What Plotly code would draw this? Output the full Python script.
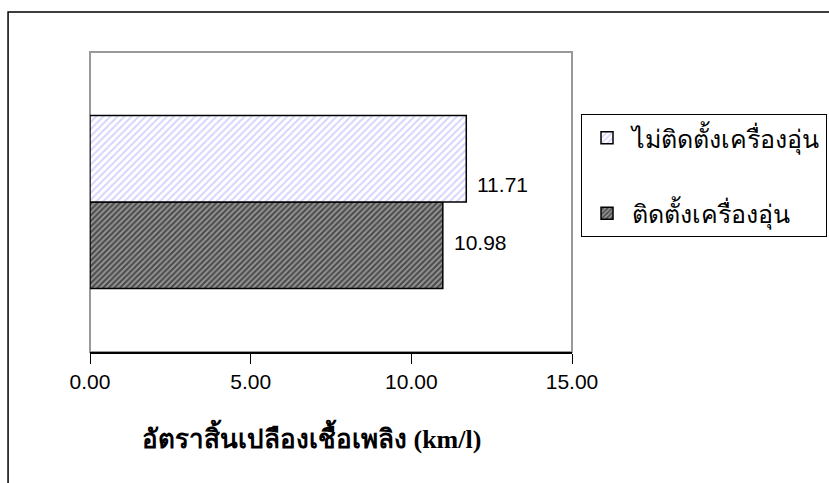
import plotly.graph_objects as go

# Fuel economy with and without the heater installed
series_names = ["ติดตั้งเครื่องอุ่น", "ไม่ติดตั้งเครื่องอุ่น"]
series_values = [10.98, 11.71]
legend_ranks = [2, 1]
label_shift = [3, -26]  # vertical nudge of each value label (px)
category = [0]
x_ticks = [0, 5, 10, 15]
x_title = "อัตราสิ้นเปลืองเชื้อเพลิง (km/l)"

bargap = 0.423
patterns = [
    dict(shape="/", fgcolor="#000000", bgcolor="#9a9a9a", size=4, solidity=0.55),
    dict(shape="/", fgcolor="#a9a9ff", bgcolor="#ffffff", size=5, solidity=0.4),
]

fig = go.Figure()
bar_w = (1 - bargap) / len(series_values)
for i, (name, val) in enumerate(zip(series_names, series_values)):
    fig.add_trace(go.Bar(
        x=[val], y=category, orientation="h", name=name,
        legendgroup=name, legendrank=legend_ranks[i],
        marker=dict(color=patterns[i]["bgcolor"], pattern=patterns[i],
                    line=dict(color="#000000", width=1.5)),
    ))
    # value label to the right of each bar
    y_center = category[0] - (1 - bargap) / 2 + bar_w * (i + 0.5)
    fig.add_annotation(
        x=val, y=y_center, xref="x", yref="y",
        text=f"{val:.2f}", showarrow=False, xanchor="left", xshift=9,
        yshift=label_shift[i],
        font=dict(family="Liberation Sans, Arial", size=21, color="#000000"),
    )

fig.update_layout(
    width=829, height=483,
    margin=dict(l=90, r=257, t=52, b=131, autoexpand=False),
    paper_bgcolor="#ffffff", plot_bgcolor="#ffffff",
    barmode="group", bargap=bargap, bargroupgap=0,
    showlegend=True,
    legend=dict(
        x=1.0187, xanchor="left", y=0.793, yanchor="top",
        tracegroupgap=40, itemwidth=40,
        bordercolor="#000000", borderwidth=1, bgcolor="#ffffff",
        font=dict(family="Liberation Serif, serif", size=25, color="#000000"),
    ),
    xaxis=dict(
        range=[0, 15], tickvals=x_ticks, tickformat=".2f",
        ticks="outside", ticklen=10, tickcolor="#000000", tickwidth=1,
        showline=True, linecolor="#000000", linewidth=1.5,
        showgrid=False, zeroline=False,
        tickfont=dict(family="Liberation Sans, Arial", size=21, color="#000000"),
    ),
    yaxis=dict(range=[-0.5, 0.5], showticklabels=False, ticks="",
               showgrid=False, zeroline=False, showline=False),
    shapes=[
        # plot area frame
        dict(type="rect", xref="paper", yref="paper", x0=0, x1=1, y0=0, y1=1,
             line=dict(color="#999999", width=2), layer="below"),
        # outer chart frame
        dict(type="rect", xref="paper", yref="paper", x0=-0.170, x1=1.56,
             y0=-0.5, y1=1.1333, line=dict(color="#000000", width=1.5), layer="below"),
    ],
)

# axis title
fig.add_annotation(
    x=0.46, y=-0.283, xref="paper", yref="paper", showarrow=False,
    xanchor="center", yanchor="middle",
    text="<b>" + x_title + "</b>",
    font=dict(family="Liberation Serif, serif", size=26, color="#000000"),
)

fig.write_html("out.html")
